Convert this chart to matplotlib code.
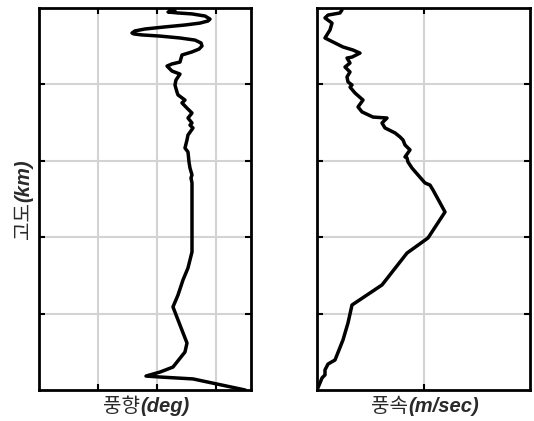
import matplotlib
matplotlib.use("Agg")
import matplotlib.pyplot as plt

# Wind direction profile (deg) vs altitude (km)
wd_deg = [350.0, 261.5, 205.5, 181.7, 205.5, 227.5, 247.9, 251.3, 239.4, 227.5,
          236.0, 244.5, 253.0, 259.8, 259.8, 258.1, 259.8, 256.4, 254.7, 253.0,
          247.9, 251.3, 253.0, 261.5, 256.4, 259.8, 253.0, 259.8, 251.3, 242.8,
          247.9, 236.0, 234.3, 230.9, 232.6, 239.4, 225.8, 217.4, 225.8, 239.4,
          242.8, 259.8, 271.7, 276.8, 275.1, 264.9, 239.4, 205.5, 174.9, 161.3,
          157.9, 163.0, 180.0, 214.0, 247.9, 273.4, 287.0, 290.4, 281.9, 259.8,
          236.0, 219.1, 230.9, 222.3]
wd_alt = [0.0, 0.58, 0.68, 0.73, 0.94, 1.20, 1.99, 2.46, 3.40, 4.35,
          4.97, 5.76, 6.39, 7.23, 10.84, 11.10, 11.26, 11.62, 11.94, 12.46,
          12.67, 13.09, 13.35, 13.72, 13.87, 13.98, 14.24, 14.50, 14.76, 15.03,
          15.18, 15.45, 15.60, 15.97, 16.23, 16.54, 16.70, 16.96, 17.07, 17.17,
          17.54, 17.70, 17.85, 18.01, 18.17, 18.32, 18.43, 18.53, 18.59, 18.64,
          18.69, 18.80, 18.90, 19.01, 19.11, 19.21, 19.32, 19.42, 19.58, 19.69,
          19.74, 19.79, 19.84, 19.92]

# Wind speed profile (m/sec) vs altitude (km)
ws_ms = [0.0, 0.85, 1.41, 2.25, 2.25, 3.10, 5.07, 7.32, 8.73, 9.86,
         18.31, 25.35, 31.27, 36.06, 32.68, 31.83, 30.42, 28.45, 26.76, 25.63,
         25.35, 24.79, 26.20, 24.79, 24.23, 23.38, 21.97, 19.15, 18.31, 19.72,
         15.77, 12.68, 11.55, 12.96, 10.70, 9.30, 9.86, 8.73, 8.45, 9.30,
         7.89, 9.30, 8.45, 9.86, 12.11, 10.14, 7.32, 4.51, 2.25, 3.66,
         4.23, 2.25, 3.10, 6.48, 7.04]
ws_alt = [0.0, 0.37, 0.63, 0.79, 1.05, 1.36, 1.57, 2.62, 3.51, 4.45,
          5.50, 7.17, 7.96, 9.32, 10.47, 10.73, 10.84, 11.26, 11.62, 11.94,
          12.15, 12.20, 12.57, 12.83, 13.09, 13.25, 13.46, 13.72, 13.98, 14.24,
          14.29, 14.56, 14.82, 15.18, 15.55, 15.86, 15.97, 16.13, 16.39, 16.65,
          16.91, 17.12, 17.38, 17.43, 17.64, 17.80, 17.96, 18.22, 18.43, 18.85,
          19.21, 19.48, 19.63, 19.74, 19.90]

alt_ticks = [4, 8, 12, 16]
wd_ticks = [100, 200, 300]
ws_ticks = [30]

wd_label = ['풍향', '(deg)']
ws_label = ['풍속', '(m/sec)']
alt_label = ['고도', '(km)']

TXT_COLOR = '#2a2a2a'
kr_font = dict(family=['Noto Sans CJK KR', 'DejaVu Sans'], fontsize=14.5,
               fontweight='normal', color=TXT_COLOR)
en_font = dict(family=['Liberation Sans', 'DejaVu Sans'], fontsize=14.5,
               fontweight='bold', fontstyle='italic', color=TXT_COLOR)

W, H = 534, 421
fig = plt.figure(figsize=(W / 100, H / 100), dpi=100)
ax1 = fig.add_axes([39 / W, 31 / H, 212 / W, 382 / H])
ax2 = fig.add_axes([317 / W, 31 / H, 213 / W, 382 / H])

for ax in (ax1, ax2):
    ax.set_ylim(0, 20)
    ax.set_yticks(alt_ticks)
    ax.grid(True, color='#d3d3d3', linewidth=1.5)
    ax.set_axisbelow(True)
    ax.tick_params(direction='in', length=4, width=1.5, top=True, right=True,
                   labelbottom=False, labelleft=False, color='black')
    for sp in ax.spines.values():
        sp.set_linewidth(2.0)
        sp.set_color('black')

ax1.plot(wd_deg, wd_alt, color='black', linewidth=2.5,
         solid_joinstyle='round', solid_capstyle='round')
ax1.set_xlim(0, 360)
ax1.set_xticks(wd_ticks)

ax2.plot(ws_ms, ws_alt, color='black', linewidth=2.5,
         solid_joinstyle='round', solid_capstyle='round')
ax2.set_xlim(0, 60)
ax2.set_xticks(ws_ticks)

renderer = fig.canvas.get_renderer()


def text_len(s, props):
    t = fig.text(0, 0, s, **props)
    w = t.get_window_extent(renderer).width
    t.remove()
    return w


def mixed_label(parts, cx, cy, rotation=0):
    """Place a label made of a Korean part and a Latin part, centred at
    (cx, cy) in pixels (from the bottom-left), on a shared baseline."""
    props = [kr_font, en_font]
    lens = [text_len(s, p) for s, p in zip(parts, props)]
    total = sum(lens)
    pos = -total / 2
    for s, p, L in zip(parts, props, lens):
        if rotation == 0:
            x, y = cx + pos, cy
        else:
            x, y = cx, cy + pos
        fig.text(x / W, y / H, s, ha='left', va='baseline',
                 rotation=rotation, rotation_mode='anchor', **p)
        pos += L


mixed_label(wd_label, 146.5, 9)
mixed_label(ws_label, 425, 9)
mixed_label(alt_label, 29, H - 199, rotation=90)

fig.savefig('out.png', dpi=100)
